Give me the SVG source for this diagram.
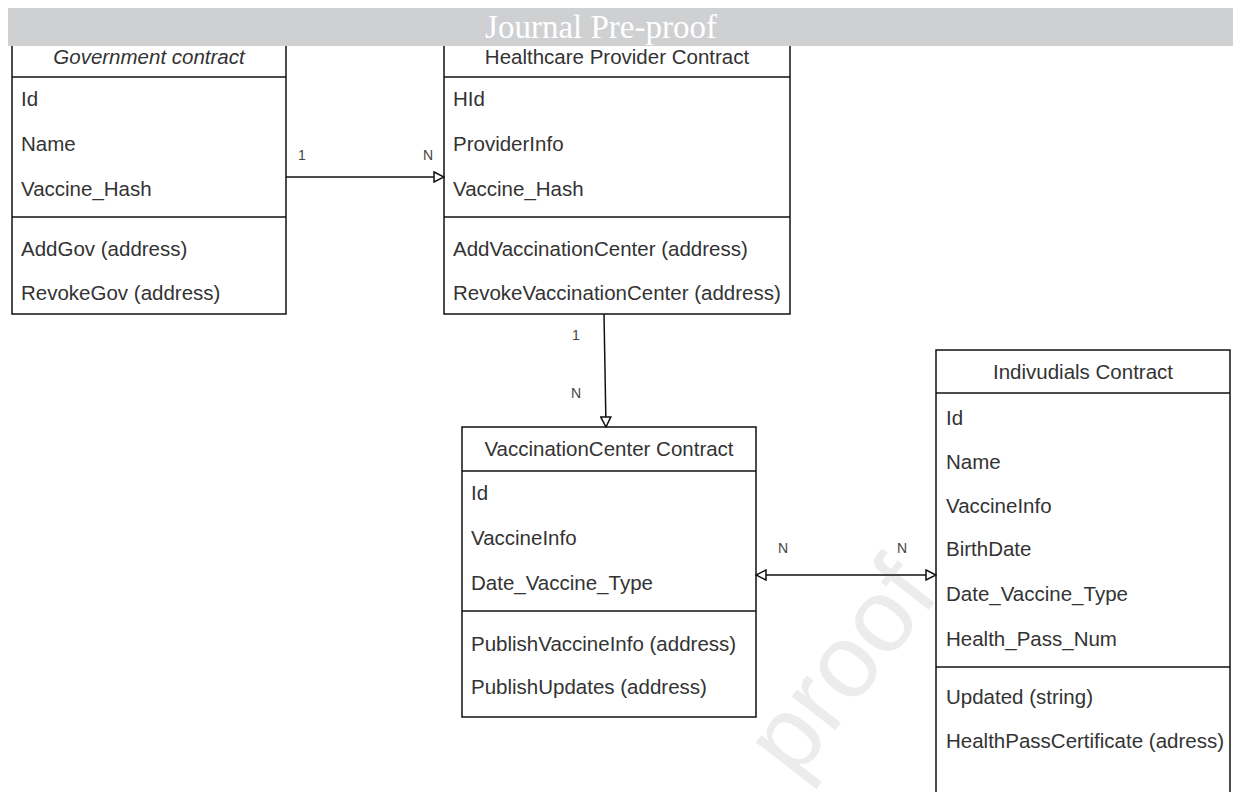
<svg xmlns="http://www.w3.org/2000/svg" width="1235" height="792" viewBox="0 0 1235 792">
<defs>
<style>
.box{fill:#fff;stroke:#111;stroke-width:1.5}
.sep{stroke:#111;stroke-width:1.5}
.t{font-family:"Liberation Sans",Arial,sans-serif;font-size:20.5px;fill:#333}
.h{font-family:"Liberation Sans",Arial,sans-serif;font-size:20.5px;fill:#333;text-anchor:middle}
.lbl{font-family:"Liberation Sans",Arial,sans-serif;font-size:14px;fill:#444;text-anchor:middle}
.edge{stroke:#111;stroke-width:1.5;fill:none}
</style>
<marker id="tri" viewBox="0 0 12 12" refX="11" refY="6" markerWidth="12" markerHeight="12" markerUnits="userSpaceOnUse" orient="auto-start-reverse">
<path d="M1,1 L11,6 L1,11 Z" fill="#fff" stroke="#111" stroke-width="1.5"/>
</marker>
</defs>
<rect width="1235" height="792" fill="#fff"/>
<text transform="translate(868,688) rotate(-52)" font-family="Liberation Sans,Arial,sans-serif" font-size="104" fill="#ececec" text-anchor="middle">proof</text>

<g id="government">
<rect class="box" x="12" y="30" width="274" height="284"/>
<line class="sep" x1="12" y1="77" x2="286" y2="77"/>
<line class="sep" x1="12" y1="217" x2="286" y2="217"/>
<text class="h" x="149" y="64" font-style="italic">Government contract</text>
<text class="t" x="21" y="106">Id</text>
<text class="t" x="21" y="151">Name</text>
<text class="t" x="21" y="196">Vaccine_Hash</text>
<text class="t" x="21" y="256">AddGov (address)</text>
<text class="t" x="21" y="300">RevokeGov (address)</text>
</g>

<g id="healthcare">
<rect class="box" x="444" y="30" width="346" height="284"/>
<line class="sep" x1="444" y1="77" x2="790" y2="77"/>
<line class="sep" x1="444" y1="217" x2="790" y2="217"/>
<text class="h" x="617" y="64">Healthcare Provider Contract</text>
<text class="t" x="453" y="106">HId</text>
<text class="t" x="453" y="151">ProviderInfo</text>
<text class="t" x="453" y="196">Vaccine_Hash</text>
<text class="t" x="453" y="256">AddVaccinationCenter (address)</text>
<text class="t" x="453" y="300">RevokeVaccinationCenter (address)</text>
</g>

<g id="vaccination-center">
<rect class="box" x="462" y="427" width="294" height="290"/>
<line class="sep" x1="462" y1="471" x2="756" y2="471"/>
<line class="sep" x1="462" y1="611" x2="756" y2="611"/>
<text class="h" x="609" y="456">VaccinationCenter Contract</text>
<text class="t" x="471" y="500">Id</text>
<text class="t" x="471" y="545">VaccineInfo</text>
<text class="t" x="471" y="590">Date_Vaccine_Type</text>
<text class="t" x="471" y="651">PublishVaccineInfo (address)</text>
<text class="t" x="471" y="694">PublishUpdates (address)</text>
</g>

<g id="individuals">
<rect class="box" x="936" y="350" width="294" height="460"/>
<line class="sep" x1="936" y1="393" x2="1230" y2="393"/>
<line class="sep" x1="936" y1="667" x2="1230" y2="667"/>
<text class="h" x="1083" y="379">Indivudials Contract</text>
<text class="t" x="946" y="425">Id</text>
<text class="t" x="946" y="469">Name</text>
<text class="t" x="946" y="513">VaccineInfo</text>
<text class="t" x="946" y="556">BirthDate</text>
<text class="t" x="946" y="601">Date_Vaccine_Type</text>
<text class="t" x="946" y="646">Health_Pass_Num</text>
<text class="t" x="946" y="704">Updated (string)</text>
<text class="t" x="946" y="748">HealthPassCertificate (adress)</text>
</g>

<g id="connectors">
<line class="edge" x1="286" y1="177" x2="444" y2="177" marker-end="url(#tri)"/>
<text class="lbl" x="302" y="160">1</text>
<text class="lbl" x="428" y="160">N</text>
<line class="edge" x1="604" y1="314" x2="606" y2="427" marker-end="url(#tri)"/>
<text class="lbl" x="576" y="340">1</text>
<text class="lbl" x="576" y="398">N</text>
<line class="edge" x1="756" y1="575" x2="936" y2="575" marker-start="url(#tri)" marker-end="url(#tri)"/>
<text class="lbl" x="783" y="553">N</text>
<text class="lbl" x="902" y="553">N</text>
</g>

<g id="header-bar">
<rect x="8" y="8" width="1225" height="38" fill="#cfd0d2"/>
<text x="601" y="38" font-family="Liberation Serif,Times New Roman,serif" font-size="33" fill="#fff" text-anchor="middle">Journal Pre-proof</text>
</g>
</svg>
